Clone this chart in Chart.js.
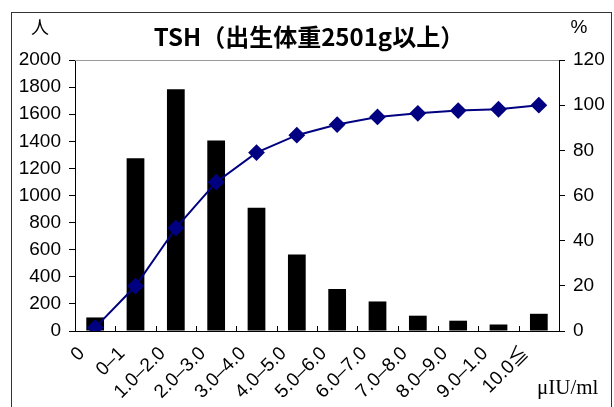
<!DOCTYPE html>
<html>
<head>
<meta charset="utf-8">
<script src="https://cdn.jsdelivr.net/npm/chart.js@4/dist/chart.umd.min.js"></script>
<style>
    html, body { margin: 0; padding: 0; background: #fff; }
    #wrap { position: relative; width: 614px; height: 407px; }
</style>
</head>
<body>
<div id="wrap"><canvas id="tshChart"></canvas></div>
<script>
// categories (μIU/ml)
const categories = ["0", "0–1", "1.0–2.0", "2.0–3.0", "3.0–4.0", "4.0–5.0", "5.0–6.0",
    "6.0–7.0", "7.0–8.0", "8.0–9.0", "9.0–1.0", "10.0≦"];
// number of people per range (left axis)
const counts = [100, 1275, 1785, 1405, 910, 565, 310, 218, 113, 76, 48, 127];
// cumulative percentage (right axis)
const cumulative = [1.5, 19.9, 45.6, 65.9, 79.0, 86.7, 91.4, 94.8, 96.4, 97.6, 98.2, 100];

const titleText = "TSH（出生体重2501g以上）";
const leftUnit = "人";
const rightUnit = "%";
const xUnit = "μIU/ml";

// frame, plot box, inner x ticks and the extra texts
const decorations = {
    id: "decorations",
    beforeDraw(chart) {
        const ctx = chart.ctx;
        ctx.save();
        ctx.fillStyle = "#fff";
        ctx.fillRect(0, 0, chart.width, chart.height);
        ctx.strokeStyle = "#333";
        ctx.lineWidth = 1;
        ctx.strokeRect(11.5, 12.5, 600, 420);
        ctx.restore();
    },
    afterDraw(chart) {
        const ctx = chart.ctx;
        const area = chart.chartArea;
        const x = chart.scales.x;
        ctx.save();
        // top edge of plot box
        ctx.strokeStyle = "#999";
        ctx.lineWidth = 1;
        ctx.beginPath();
        ctx.moveTo(area.left, area.top + 0.5);
        ctx.lineTo(area.right, area.top + 0.5);
        ctx.stroke();
        // small inward ticks between categories
        ctx.strokeStyle = "#000";
        ctx.beginPath();
        for (let i = 1; i < categories.length; i++) {
            const px = Math.round(x.getPixelForValue(i - 0.5)) + 0.5;
            ctx.moveTo(px, area.bottom);
            ctx.lineTo(px, area.bottom - 5);
        }
        ctx.stroke();

        ctx.fillStyle = "#000";
        ctx.textBaseline = "middle";
        ctx.textAlign = "center";
        ctx.font = "bold 24px 'Noto Sans CJK JP'";
        ctx.fillText(titleText, 309, 37);
        ctx.font = "18px 'Noto Sans CJK JP'";
        ctx.fillText(leftUnit, 40, 27);
        ctx.font = "19px 'Liberation Sans'";
        ctx.fillText(rightUnit, 579, 28);
        ctx.textAlign = "left";
        ctx.font = "21px 'Liberation Serif'";
        ctx.fillText(xUnit, 537, 388);
        ctx.restore();
    }
};

const tickFont = { family: "'Liberation Sans'", size: 19 };

new Chart(document.getElementById("tshChart"), {
    data: {
        labels: categories,
        datasets: [
            {
                type: "line",
                data: cumulative,
                yAxisID: "y1",
                order: 0,
                borderColor: "#000080",
                backgroundColor: "#000080",
                borderWidth: 2,
                pointStyle: "rectRot",
                pointRadius: 7,
                pointHoverRadius: 7,
                tension: 0
            },
            {
                type: "bar",
                data: counts,
                yAxisID: "y",
                order: 1,
                backgroundColor: "#000",
                barPercentage: 0.44,
                categoryPercentage: 1
            }
        ]
    },
    options: {
        responsive: true,
        maintainAspectRatio: false,
        animation: false,
        layout: { padding: { top: 60, left: 0, right: 0, bottom: 0 } },
        plugins: { legend: { display: false }, tooltip: { enabled: false } },
        scales: {
            x: {
                grid: { display: false },
                border: { color: "#000", width: 1 },
                ticks: {
                    color: "#000",
                    font: { family: "'Liberation Sans', 'Noto Sans CJK JP'", size: 19 },
                    minRotation: 45,
                    maxRotation: 45,
                    padding: -10,
                    autoSkip: false,
                    // trailing space nudges the rotated label down-left like the original
                    callback: (v, i) => categories[i] + "\u2003"
                },
                afterFit: s => { s.height = 76; }
            },
            y: {
                position: "left",
                min: 0,
                max: 2000,
                ticks: { stepSize: 200, color: "#000", font: tickFont, padding: 8, callback: v => String(v) },
                grid: { drawOnChartArea: false, color: "#000", tickLength: 6 },
                border: { color: "#000", width: 1 },
                afterFit: s => { s.width = 75; }
            },
            y1: {
                position: "right",
                min: 0,
                max: 120,
                ticks: { stepSize: 20, color: "#000", font: tickFont, padding: 8, callback: v => String(v) },
                grid: { drawOnChartArea: false, color: "#000", tickLength: 6 },
                border: { color: "#000", width: 1 },
                afterFit: s => { s.width = 55; }
            }
        }
    },
    plugins: [decorations]
});
</script>
</body>
</html>
